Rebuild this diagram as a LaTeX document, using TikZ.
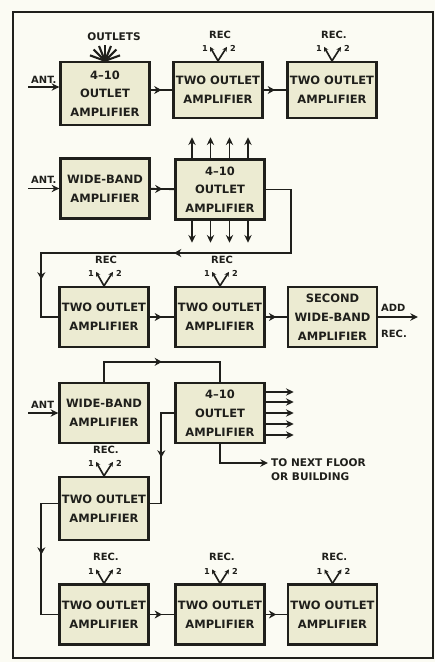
\documentclass[tikz,border=0pt]{standalone}
\usepackage{fontspec}
\setmainfont{DejaVu Sans}
\usetikzlibrary{arrows.meta, calc, decorations.markings}
\definecolor{paper}{HTML}{FBFBF3}
\definecolor{boxfill}{HTML}{ECEBD2}
\definecolor{ink}{HTML}{1F1F1B}

\begin{document}
\begin{tikzpicture}[x=0.03cm, y=-0.03cm,
  ampbox/.style={draw=ink, line width=2pt, fill=boxfill, minimum width=2.67cm, minimum height=1.8cm, inner sep=0pt, align=center, text=ink, font=\fontsize{9.8}{16}\selectfont\bfseries},
  wire/.style={draw=ink, line width=1.6pt},
  midarrow/.style={postaction={decorate, decoration={markings, mark=at position #1 with {\arrow{Stealth[length=2.2mm, width=2.4mm]}}}}},
  midarrow/.default=0.5,
  feed/.style={wire, -{Stealth[length=2.3mm, width=2.2mm]}},
  tap/.style={draw=ink, line width=1.4pt, -{Stealth[length=1.4mm, width=1.4mm]}},
  tag/.style={font=\fontsize{8.5}{10}\selectfont\bfseries, text=ink, inner sep=0pt},
  digit/.style={font=\fontsize{7}{8}\selectfont\bfseries, text=ink, inner sep=0pt}
]
\fill[paper] (0,0) rectangle (435,662);
\useasboundingbox (0,0) rectangle (435,662);
\draw[ink, line width=1.8pt] (13,12) rectangle (433,658);

% first building
\node[ampbox, minimum height=1.89cm] (a1) at (105,93.5) {4--10\\OUTLET\\AMPLIFIER};
\node[ampbox, minimum height=1.68cm] (a2) at (218,90) {TWO OUTLET\\AMPLIFIER};
\node[ampbox, minimum height=1.68cm] (a3) at (332,90) {TWO OUTLET\\AMPLIFIER};

\coordinate (antA) at (28,87);
\node[tag, anchor=south west] (antAl) at (31,84) {ANT.};
\draw[feed] (antA) -- (antA -| a1.west);
\draw[wire, midarrow] (a1.east |- a2.west) -- (a2.west);
\draw[wire, midarrow] (a2) -- (a3);

\node[tag, font=\fontsize{9}{10}\selectfont\bfseries] (outl) at (114,37) {OUTLETS};
\foreach \a in {-20,-45,-68,-90,-112,-135,-160}
  \draw[wire, line width=1.8pt] (a1.north) -- ++(\a:16);

% second building
\node[ampbox] (b1) at (105,188.5) {WIDE-BAND\\AMPLIFIER};
\node[ampbox] (b2) at (220,189.5) {4--10\\OUTLET\\AMPLIFIER};

\coordinate (antB) at (28,188.5);
\node[tag, anchor=south west] (antBl) at (31,184) {ANT.};
\draw[feed] (antB) -- (b1.west);
\draw[wire, midarrow] (b1) -- (b2);
\foreach \dx in {-28,-9.5,9.5,28} {
  \draw[feed] ($(b2.north)+(\dx,0)$) -- ++(0,-21);
  \draw[feed] ($(b2.south)+(\dx,0)$) -- ++(0,22);
}

\node[ampbox] (c1) at (104,317) {TWO OUTLET\\AMPLIFIER};
\node[ampbox] (c2) at (220,317) {TWO OUTLET\\AMPLIFIER};
\node[ampbox] (c3) at (332.5,317) {SECOND\\WIDE-BAND\\AMPLIFIER};

\draw[wire, midarrow=0.49, midarrow=0.87] (b2.east) -- ++(25,0) -- ++(0,63.5) -| ($(c1.west)+(-17,0)$) -- (c1.west);
\draw[wire, midarrow] (c1) -- (c2);
\draw[wire, midarrow] (c2) -- (c3);
\coordinate (addrec) at (418,317);
\draw[feed] (c3) -- (addrec);
\node[tag, anchor=west] (addl) at (381,308) {ADD};
\node[tag, anchor=west] (recl) at (381,334) {REC.};

% third building
\node[ampbox] (d1) at (104,413) {WIDE-BAND\\AMPLIFIER};
\node[ampbox] (d2) at (220,413) {4--10\\OUTLET\\AMPLIFIER};
\node[ampbox, minimum height=1.89cm] (e1) at (104,508.5) {TWO OUTLET\\AMPLIFIER};

\coordinate (antC) at (28,413);
\node[tag, anchor=south west] (antCl) at (31,409) {ANT};
\draw[feed] (antC) -- (d1.west);
\draw[wire, midarrow] (d1.north) -- ++(0,-20) -| (d2.north);
\foreach \dy in {-21,-11,0,11,22}
  \draw[feed] ($(d2.east)+(0,\dy)$) -- ++(28,0);

\coordinate (nextfl) at (268,463);
\draw[feed] (d2.south) |- (nextfl);
\node[tag, anchor=north west, align=left, font=\fontsize{9}{12.5}\selectfont\bfseries] (nextl) at (271,458) {TO NEXT FLOOR\\OR BUILDING};

\draw[wire, midarrow] (d2.west) -- ++(-13,0) |- ($(e1.east)+(0,-5)$);

\node[ampbox] (f1) at (104,614.5) {TWO OUTLET\\AMPLIFIER};
\node[ampbox] (f2) at (220,614.5) {TWO OUTLET\\AMPLIFIER};
\node[ampbox] (f3) at (332.5,614.5) {TWO OUTLET\\AMPLIFIER};

\draw[wire, midarrow=0.47] ($(e1.west)+(0,-5)$) -- ++(-17,0) |- (f1.west);
\draw[wire, midarrow] (f1) -- (f2);
\draw[wire, midarrow] (f2) -- (f3);

% receiver taps
\foreach \b/\t in {a2/REC, a3/REC., c1/REC, c2/REC, e1/REC., f1/REC., f2/REC., f3/REC.} {
  \draw[tap] (\b.north) -- ++(-8,-14);
  \draw[tap] (\b.north) -- ++(9,-14);
  \node[digit] (one-\b) at ($(\b.north)+(-13,-12)$) {1};
  \node[digit] (two-\b) at ($(\b.north)+(15,-12)$) {2};
  \node[tag] (rec-\b) at ($(\b.north)+(2,-26)$) {\t};
}
\end{tikzpicture}
\end{document}
